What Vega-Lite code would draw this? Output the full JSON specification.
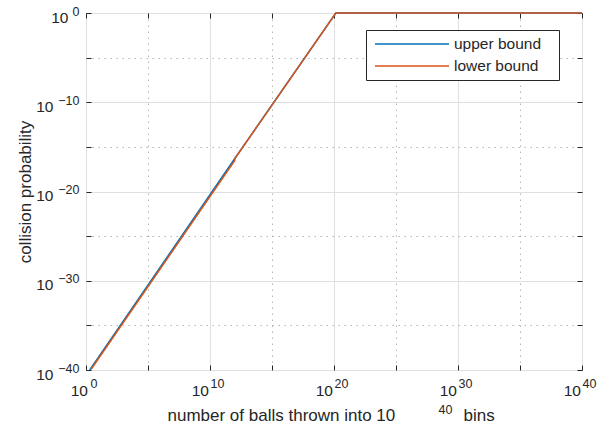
{
  "$schema": "https://vega.github.io/schema/vega-lite/v6.json",
  "width": 496,
  "height": 357,
  "autosize": "none",
  "padding": {"left": 86, "top": 13, "right": 17, "bottom": 55},
  "background": "white",
  "config": {
    "font": "Liberation Sans",
    "view": {"stroke": "#262626", "strokeWidth": 1},
    "axis": {
      "labelColor": "#262626",
      "titleColor": "#262626",
      "tickColor": "#262626",
      "domain": false,
      "labelOverlap": false,
      "labelFlush": false,
      "labelBound": false,
      "titleFontWeight": "normal",
      "zindex": 0
    }
  },
  "data": {
    "values": [
      {"series": "upper bound", "k": 1, "n": 2, "p": 1e-40},
      {"series": "upper bound", "k": 2, "n": 1e12, "p": 5e-17},
      {"series": "upper bound", "k": 3, "n": 1.4142e20, "p": 1},
      {"series": "upper bound", "k": 4, "n": 1e40, "p": 1},
      {"series": "lower bound", "k": 1, "n": 2.6, "p": 1.2e-40},
      {"series": "lower bound", "k": 2, "n": 1e12, "p": 3e-17},
      {"series": "lower bound", "k": 3, "n": 1.05e12, "p": 5.3e-17},
      {"series": "lower bound", "k": 4, "n": 1.4142e20, "p": 1},
      {"series": "lower bound", "k": 5, "n": 1e40, "p": 1}
    ]
  },
  "layer": [
    {
      "transform": [{"filter": "datum.series === 'upper bound'"}],
      "mark": {"type": "line", "strokeWidth": 1.5, "clip": false},
      "encoding": {
        "order": {"field": "k", "type": "quantitative"},
        "x": {
          "field": "n", "type": "quantitative",
          "scale": {"type": "log", "domain": [1, 1e40], "nice": false},
          "axis": {
            "orient": "bottom",
            "values": [1, 1e5, 1e10, 1e15, 1e20, 1e25, 1e30, 1e35, 1e40],
            "labelExpr": "round(log(datum.value)/LN10) % 10 == 0 ? '10' : ''",
            "labelFontSize": 15.5,
            "labelAlign": "right",
            "labelBaseline": "alphabetic",
            "labelPadding": 30,
            "labelOffset": {"condition": {"test": "datum.value == 1", "value": 1.5}, "value": -1.5},
            "ticks": true,
            "tickSize": -5,
            "grid": true,
            "gridColor": {"condition": {"test": "round(log(datum.value)/LN10) % 10 != 0", "value": "#b5b5b5"}, "value": "#e0e0e0"},
            "gridDash": {"condition": {"test": "round(log(datum.value)/LN10) % 10 != 0", "value": [1.5, 4.5]}, "value": []},
            "title": "number of balls thrown into 10",
            "titleFontSize": 17,
            "titleX": 81,
            "titleY": 50,
            "titleAlign": "left",
            "titleBaseline": "alphabetic"
          }
        },
        "y": {
          "field": "p", "type": "quantitative",
          "scale": {"type": "log", "domain": [1e-40, 1], "nice": false},
          "axis": {
            "orient": "left",
            "values": [1e-40, 1e-35, 1e-30, 1e-25, 1e-20, 1e-15, 1e-10, 1e-5, 1],
            "labelExpr": "round(log(datum.value)/LN10) % 10 == 0 ? '10' : ''",
            "labelFontSize": 15.5,
            "labelAlign": "right",
            "labelBaseline": "alphabetic",
            "labelOffset": 9,
            "labelPadding": {"condition": {"test": "datum.value == 1", "value": 23}, "value": 38},
            "ticks": true,
            "tickSize": -5,
            "grid": true,
            "gridColor": {"condition": {"test": "round(log(datum.value)/LN10) % 10 != 0", "value": "#b5b5b5"}, "value": "#e0e0e0"},
            "gridDash": {"condition": {"test": "round(log(datum.value)/LN10) % 10 != 0", "value": [1.5, 4.5]}, "value": []},
            "title": "collision probability",
            "titleFontSize": 17,
            "titleAngle": -90,
            "titleX": -56,
            "titleY": 178.5,
            "titleAlign": "center",
            "titleBaseline": "alphabetic"
          }
        },
        "color": {
          "field": "series", "type": "nominal",
          "scale": {"domain": ["upper bound", "lower bound"], "range": ["#0072BD", "#D95319"]},
          "legend": {
            "title": null,
            "orient": "none",
            "legendX": 280,
            "legendY": 17,
            "padding": 5,
            "strokeColor": "#262626",
            "fillColor": "white",
            "cornerRadius": 0,
            "symbolType": "M-1,0H8.25",
            "symbolSize": 256,
            "symbolStrokeWidth": 1.3,
            "symbolOffset": 3,
            "labelOffset": 62,
            "labelFontSize": 15.5,
            "labelColor": "#262626",
            "rowPadding": 4,
            "labelExpr": "datum.label + '\u00a0\u00a0\u00a0\u200b'"
          }
        }
      }
    },
    {
      "transform": [{"filter": "datum.series === 'lower bound'"}],
      "mark": {"type": "line", "strokeWidth": 1.5, "clip": false},
      "encoding": {
        "order": {"field": "k", "type": "quantitative"},
        "x": {
          "field": "n", "type": "quantitative",
          "scale": {"type": "log", "domain": [1, 1e40], "nice": false},
          "axis": {
            "orient": "bottom",
            "values": [1, 1e5, 1e10, 1e15, 1e20, 1e25, 1e30, 1e35, 1e40],
            "labelExpr": "round(log(datum.value)/LN10) % 10 == 0 ? ('' + round(log(datum.value)/LN10)) : ''",
            "labelFontSize": 12.5,
            "labelAlign": "left",
            "labelBaseline": "alphabetic",
            "labelPadding": 17,
            "labelOffset": {"condition": {"test": "datum.value == 1", "value": 4}, "value": 0},
            "ticks": false,
            "grid": false,
            "title": "40",
            "titleFontSize": 12.5,
            "titleX": 352,
            "titleY": 43,
            "titleAlign": "left",
            "titleBaseline": "alphabetic"
          }
        },
        "y": {
          "field": "p", "type": "quantitative",
          "scale": {"type": "log", "domain": [1e-40, 1], "nice": false},
          "axis": {
            "orient": "left",
            "values": [1e-40, 1e-35, 1e-30, 1e-25, 1e-20, 1e-15, 1e-10, 1e-5, 1],
            "labelExpr": "round(log(datum.value)/LN10) % 10 == 0 ? (round(log(datum.value)/LN10) < 0 ? '\u2212' + abs(round(log(datum.value)/LN10)) : '' + round(log(datum.value)/LN10)) : ''",
            "labelFontSize": 12.5,
            "labelAlign": "right",
            "labelBaseline": "alphabetic",
            "labelOffset": 2,
            "labelPadding": 7,
            "ticks": false,
            "grid": false,
            "title": null
          }
        },
        "color": {
          "field": "series", "type": "nominal",
          "scale": {"domain": ["upper bound", "lower bound"], "range": ["#0072BD", "#D95319"]},
          "legend": {
            "title": null,
            "orient": "none",
            "legendX": 280,
            "legendY": 17,
            "padding": 5,
            "strokeColor": "#262626",
            "fillColor": "white",
            "cornerRadius": 0,
            "symbolType": "M-1,0H8.25",
            "symbolSize": 256,
            "symbolStrokeWidth": 1.3,
            "symbolOffset": 3,
            "labelOffset": 62,
            "labelFontSize": 15.5,
            "labelColor": "#262626",
            "rowPadding": 4,
            "labelExpr": "datum.label + '\u00a0\u00a0\u00a0\u200b'"
          }
        }
      }
    },
    {
      "mark": {"type": "point", "opacity": 0},
      "encoding": {
        "x": {
          "field": "n", "type": "quantitative",
          "scale": {"type": "log", "domain": [1, 1e40], "nice": false},
          "axis": {
            "orient": "top",
            "values": [1, 1e5, 1e10, 1e15, 1e20, 1e25, 1e30, 1e35, 1e40],
            "labels": false,
            "ticks": true,
            "tickSize": -5,
            "grid": false,
            "title": "bins",
            "titleFontSize": 17,
            "titleX": 377,
            "titleY": 407,
            "titleAlign": "left",
            "titleBaseline": "alphabetic"
          }
        },
        "y": {
          "field": "p", "type": "quantitative",
          "scale": {"type": "log", "domain": [1e-40, 1], "nice": false},
          "axis": {
            "orient": "right",
            "values": [1e-40, 1e-35, 1e-30, 1e-25, 1e-20, 1e-15, 1e-10, 1e-5, 1],
            "labels": false,
            "ticks": true,
            "tickSize": -5,
            "grid": false,
            "title": null
          }
        }
      }
    }
  ],
  "resolve": {"axis": {"x": "independent", "y": "independent"}}
}
